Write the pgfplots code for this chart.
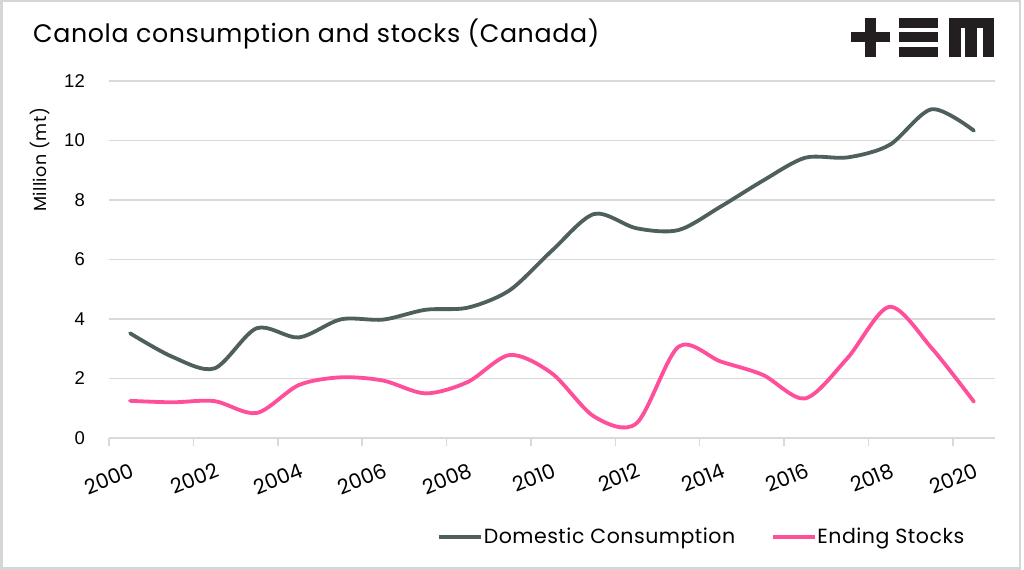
\documentclass[border=0pt]{standalone}
\usepackage{fontspec}
\setmainfont{Liberation Sans}
\newfontfamily\geo[LetterSpace=2.5]{Poppins}
\newfontfamily\geox{Poppins}
\usepackage{pgfplots}
\usepackage{pgfplotstable}
\pgfplotsset{compat=1.18}

\definecolor{gridgrey}{HTML}{D9D9D9}
\definecolor{consgrey}{HTML}{4E5F5E}
\definecolor{stockpink}{HTML}{FF4F9A}
\definecolor{logoblack}{HTML}{231F20}
\definecolor{framegrey}{HTML}{D6D6D6}

% million tonnes
\pgfplotstableread{
year cons stocks
2000 3.52 1.25
2001 2.73 1.20
2002 2.34 1.24
2003 3.69 0.84
2004 3.38 1.78
2005 3.99 2.04
2006 3.98 1.93
2007 4.31 1.50
2008 4.38 1.88
2009 4.97 2.79
2010 6.30 2.17
2011 7.53 0.72
2012 7.05 0.49
2013 6.99 3.07
2014 7.78 2.57
2015 8.65 2.12
2016 9.42 1.33
2017 9.43 2.68
2018 9.85 4.41
2019 11.05 3.02
2020 10.33 1.22
}\canola

\begin{document}
\begin{tikzpicture}
\useasboundingbox (0,0) rectangle (1024bp,570bp);
\fill[white] (0,0) rectangle (1024bp,570bp);
\draw[framegrey, line width=2.5bp] (1.25bp,1.5bp) rectangle (1020bp,568.75bp);

\node[anchor=base west, inner sep=0pt, font=\geo\fontsize{25.3bp}{29bp}\selectfont]
  at (33bp,527bp) {Canola consumption and stocks (Canada)};

% logo
\begin{scope}[logoblack]
  \fill (850.7bp,528.3bp) rectangle (890bp,538.3bp);
  \fill (865bp,513.3bp) rectangle (876bp,552.3bp);
  \fill (899bp,542.3bp) rectangle (938bp,552.3bp);
  \fill (899bp,528.3bp) rectangle (938bp,538.3bp);
  \fill (899bp,513.3bp) rectangle (938bp,523.3bp);
  \fill (949bp,542.3bp) rectangle (994bp,552.3bp);
  \fill (949bp,513.3bp) rectangle (960.7bp,552.3bp);
  \fill (965bp,513.3bp) rectangle (976.7bp,552.3bp);
  \fill (982.7bp,513.3bp) rectangle (994bp,552.3bp);
\end{scope}

\begin{axis}[
  at={(109bp,132bp)}, anchor=south west,
  scale only axis, width=886bp, height=357bp,
  xmin=1999.5, xmax=2020.5, ymin=0, ymax=12,
  axis line style={draw=none},
  ytick={0,2,...,12},
  ymajorgrids,
  grid style={gridgrey, line width=1.5bp},
  xtick={2000,2002,...,2020},
  minor xtick={1999.5,2001.5,2003.5,2005.5,2007.5,2009.5,2011.5,2013.5,2015.5,2017.5,2019.5},
  major tick length=0pt,
  minor tick length=8bp,
  tick align=outside,
  tick style={gridgrey, line width=1.5bp},
  xtick pos=lower, ytick pos=left,
  /pgf/number format/assume math mode=true,
  /pgf/number format/1000 sep={},
  xticklabel style={font=\geox\fontsize{20.5bp}{22bp}\selectfont, rotate=22, anchor=north east, inner sep=0pt},
  xticklabel shift=24bp,
  yticklabel style={font=\fontsize{18.5bp}{20bp}\selectfont, inner sep=0pt},
  yticklabel shift=24bp,
  ylabel={Million (mt)},
  every axis y label/.style={at={(axis description cs:-0.0779,0.779)}, rotate=90, anchor=center,
    font=\geo\fontsize{17.5bp}{19bp}\selectfont},
  legend columns=2,
  legend style={at={(axis description cs:0.3702,-0.2765)}, anchor=west, draw=none, fill=none,
    inner sep=0pt, font=\geo\fontsize{20.5bp}{22bp}\selectfont, nodes={inner sep=0.6bp},
    /tikz/every even column/.append style={column sep=35bp}},
  legend image code/.code={\draw[#1, line width=4bp, line cap=butt] (0bp,0bp) -- (42bp,0bp);},
]
\addplot[consgrey, line width=3.8bp, smooth, line cap=round, line join=round]
  table[x=year, y=cons] {\canola};
\addlegendentry{Domestic Consumption}
\addplot[stockpink, line width=3.8bp, smooth, line cap=round, line join=round]
  table[x=year, y=stocks] {\canola};
\addlegendentry{Ending Stocks}
\end{axis}
\end{tikzpicture}
\end{document}
